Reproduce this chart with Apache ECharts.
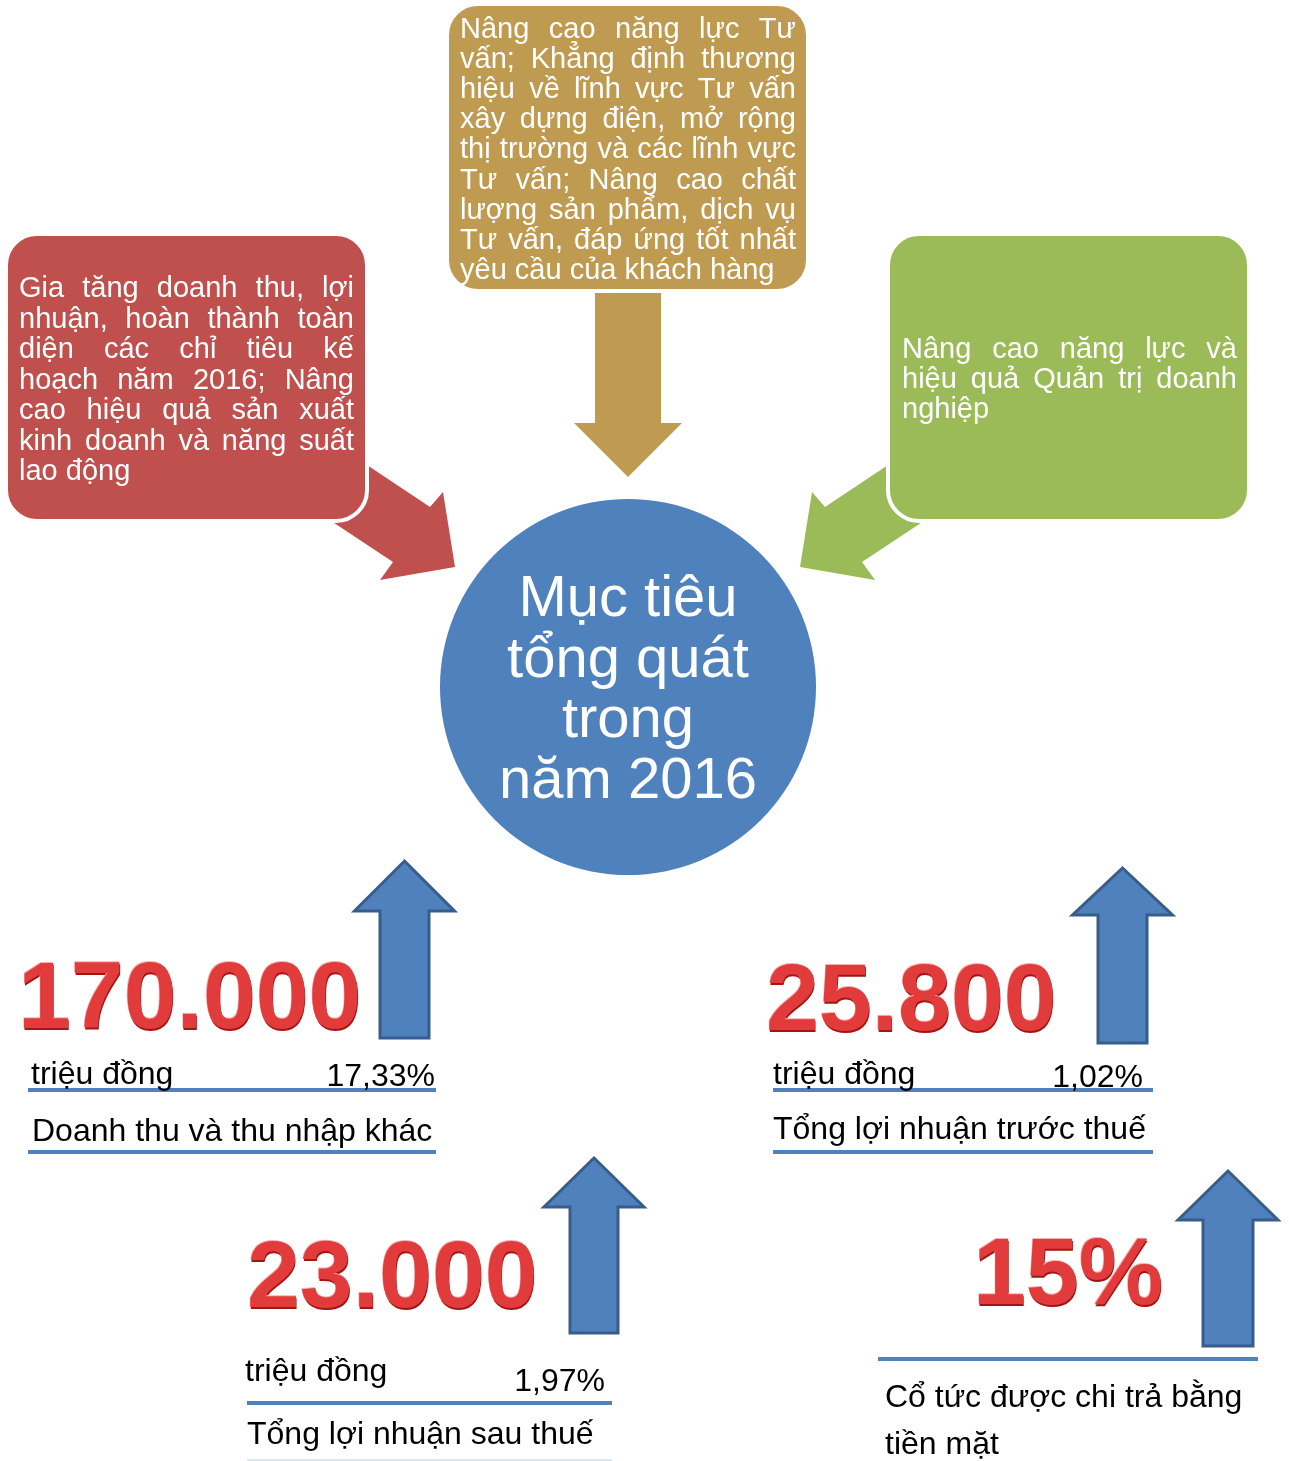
<!DOCTYPE html>
<html>
<head>
<meta charset="utf-8">
<title>Mục tiêu tổng quát trong năm 2016</title>
<script src="https://cdn.jsdelivr.net/npm/echarts@6/dist/echarts.min.js"></script>
<style>
  html, body { margin: 0; padding: 0; background: #ffffff; }
  #chart { width: 1289px; height: 1461px; }
</style>
</head>
<body>
<div id="chart"></div>
<script>
// ---- Content ----
const centerTitle = ['Mục tiêu', 'tổng quát', 'trong', 'năm 2016'];

const goalFinance = [
  'Gia tăng doanh thu, lợi',
  'nhuận, hoàn thành toàn',
  'diện các chỉ tiêu kế',
  'hoạch năm 2016; Nâng',
  'cao hiệu quả sản xuất',
  'kinh doanh và năng suất',
  'lao động'
];
const goalConsulting = [
  'Nâng cao năng lực Tư',
  'vấn; Khẳng định thương',
  'hiệu về lĩnh vực Tư vấn',
  'xây dựng điện, mở rộng',
  'thị trường và các lĩnh vực',
  'Tư vấn; Nâng cao chất',
  'lượng sản phẩm, dịch vụ',
  'Tư vấn, đáp ứng tốt nhất',
  'yêu cầu của khách hàng'
];
const goalManagement = [
  'Nâng cao năng lực và',
  'hiệu quả Quản trị doanh',
  'nghiệp'
];

// Key targets for 2016
const kpiValues = [170000, 25800, 23000, 15];
const kpiUnits = ['triệu đồng', 'triệu đồng', 'triệu đồng', '%'];
const kpiGrowth = [17.33, 1.02, 1.97, null];
const kpiNames = [
  ['Doanh thu và thu nhập khác'],
  ['Tổng lợi nhuận trước thuế'],
  ['Tổng lợi nhuận sau thuế'],
  ['Cổ tức được chi trả bằng', 'tiền mặt']
];

// ---- Helpers ----
const FONT = '"Liberation Sans", Arial, Helvetica, sans-serif';
const BLUE = '#4F81BD';
const BLUE_DARK = '#385D8A';
const measureCtx = document.createElement('canvas').getContext('2d');
function measure(t, size, weight) {
  measureCtx.font = (weight || 'normal') + ' ' + size + 'px ' + FONT;
  return measureCtx.measureText(t).width;
}
function fmtThousands(v) {
  return String(v).replace(/\B(?=(\d{3})+(?!\d))/g, '.');
}
function fmtPct(v) {
  return v.toFixed(2).replace('.', ',') + '%';
}
function text(x, y, str, o) {
  o = o || {};
  return {
    type: 'text', x: x, y: y, z: o.z || 10, silent: true,
    style: {
      text: str,
      fill: o.fill || '#000',
      fontSize: o.size || 32,
      fontWeight: o.weight || 'normal',
      fontFamily: FONT,
      align: o.align || 'left', textAlign: o.align || 'left',
      verticalAlign: 'middle', textVerticalAlign: 'middle',
      stroke: o.stroke, lineWidth: o.lineWidth || 0,
      shadowColor: o.shadowColor, shadowBlur: o.shadowBlur || 0,
      shadowOffsetX: o.shadowOffsetX || 0, shadowOffsetY: o.shadowOffsetY || 0
    }
  };
}
// justified paragraph: every line but the last spreads to the full width
function justified(lines, left, right, firstY, gap, size) {
  const out = [];
  const width = right - left;
  lines.forEach(function (line, i) {
    const y = firstY + i * gap;
    const words = line.split(' ');
    if (i === lines.length - 1 || words.length < 2) {
      out.push(text(left, y, line, { fill: '#fff', size: size, z: 20 }));
      return;
    }
    const ws = words.map(function (w) { return measure(w, size); });
    const total = ws.reduce(function (a, b) { return a + b; }, 0);
    const g = (width - total) / (words.length - 1);
    let x = left;
    words.forEach(function (w, k) {
      out.push(text(x, y, w, { fill: '#fff', size: size, z: 20 }));
      x += ws[k] + g;
    });
  });
  return out;
}
// rounded box; the white rim separates it from its pointer arrow
function roundBox(x, y, w, h, color) {
  return {
    type: 'rect', z: 15, silent: true,
    shape: { x: x - 2, y: y - 2, width: w + 4, height: h + 4, r: 31 },
    style: { fill: color, stroke: '#ffffff', lineWidth: 4 }
  };
}
function poly(points, fill, stroke, lw, z) {
  return {
    type: 'polygon', z: z || 5, silent: true,
    shape: { points: points },
    style: { fill: fill, stroke: stroke || null, lineWidth: lw || 0, lineJoin: 'miter' }
  };
}
function upArrow(a) {
  const cx = a.cx, hh = 50, sh = a.shaft;
  return poly([
    [cx, a.tip], [cx + hh, a.head], [cx + sh, a.head], [cx + sh, a.bottom],
    [cx - sh, a.bottom], [cx - sh, a.head], [cx - hh, a.head]
  ], BLUE, BLUE_DARK, 3, 6);
}
function hline(x1, x2, y, color, lw) {
  return {
    type: 'line', z: 8, silent: true,
    shape: { x1: x1, y1: y, x2: x2, y2: y },
    style: { stroke: color || BLUE, lineWidth: lw || 4 }
  };
}
// bevelled red figure: dark lower edge with soft shadow, pale upper edge, red face
function bigNumber(x, y, str) {
  const base = { size: 95, weight: 'bold' };
  return [
    text(x + 0.6, y + 2, str, Object.assign({}, base, {
      fill: '#A31414', shadowColor: 'rgba(0,0,0,0.45)', shadowBlur: 6, shadowOffsetY: 3, z: 11
    })),
    text(x - 0.6, y - 1.4, str, Object.assign({}, base, { fill: '#FAB0B0', z: 12 })),
    text(x, y, str, Object.assign({}, base, { fill: '#E23B3B', z: 13 }))
  ];
}

// ---- Layout ----
const els = [];

// goal boxes with their pointers towards the centre
els.push(roundBox(8, 236, 357, 283, '#C0504D'));
els.push(poly([[340, 447], [430, 507], [443, 492], [455, 567], [380, 580], [393, 562], [310, 507]], '#C0504D', null, 0, 5));
els.push.apply(els, justified(goalFinance, 19, 354, 289, 30.5, 29));

els.push(roundBox(449, 6, 357, 283, '#BF9B52'));
els.push(poly([[595, 293], [661, 293], [661, 423], [682, 423], [628, 477], [574, 423], [595, 423]], '#BF9B52', null, 0, 5));
els.push.apply(els, justified(goalConsulting, 460, 796, 29.5, 30.2, 29));

els.push(roundBox(890, 236, 357, 283, '#9BBB59'));
els.push(poly([[915, 447], [825, 507], [812, 492], [800, 567], [875, 580], [862, 562], [945, 507]], '#9BBB59', null, 0, 5));
els.push.apply(els, justified(goalManagement, 902, 1237, 350, 30, 29));

// centre circle
els.push({ type: 'circle', z: 4, silent: true, shape: { cx: 628, cy: 687, r: 188 }, style: { fill: BLUE } });
centerTitle.forEach(function (t, i) {
  els.push(text(628, 600 + i * 60.5, t, { fill: '#fff', size: 58, align: 'center', z: 10 }));
});

// KPI blocks
const kpiLayout = [
  { num: [18, 1002], arrow: { cx: 404.5, tip: 861, head: 911, shaft: 24.5, bottom: 1038 },
    unit: [31, 1075], growth: [435, 1077], line1: [28, 436, 1090], names: [[32, 1132]], line2: 1152 },
  { num: [766, 1004], arrow: { cx: 1122.5, tip: 868, head: 915, shaft: 24.5, bottom: 1043 },
    unit: [773, 1075], growth: [1143, 1078], line1: [773, 1153, 1090], names: [[773, 1130]], line2: 1152 },
  { num: [247, 1281], arrow: { cx: 594, tip: 1158, head: 1207, shaft: 24, bottom: 1333 },
    unit: [245, 1372], growth: [605, 1382], line1: [247, 612, 1403], names: [[247, 1435]], line2: 1460, faint: true },
  { num: [973, 1278], arrow: { cx: 1228, tip: 1171, head: 1220, shaft: 25, bottom: 1346 },
    unit: null, growth: null, line1: [878, 1258, 1359], names: [[885, 1398], [885, 1445]], line2: null }
];

kpiValues.forEach(function (v, i) {
  const L = kpiLayout[i];
  const isPct = kpiUnits[i] === '%';
  const label = isPct ? v + '%' : fmtThousands(v);
  els.push(upArrow(L.arrow));
  els.push.apply(els, bigNumber(L.num[0], L.num[1], label));
  if (!isPct) {
    els.push(text(L.unit[0], L.unit[1], kpiUnits[i], { size: 32 }));
  }
  if (kpiGrowth[i] != null) {
    els.push(text(L.growth[0], L.growth[1], fmtPct(kpiGrowth[i]), { size: 32, align: 'right' }));
  }
  els.push(hline(L.line1[0], L.line1[1], L.line1[2]));
  kpiNames[i].forEach(function (n, k) {
    els.push(text(L.names[k][0], L.names[k][1], n, { size: 32 }));
  });
  if (L.line2 != null) {
    els.push(L.faint ? hline(L.line1[0], L.line1[1], L.line2, '#DCE6F2', 2)
                     : hline(L.line1[0], L.line1[1], L.line2));
  }
});

const chart = echarts.init(document.getElementById('chart'), null, { renderer: 'canvas' });
chart.setOption({
  backgroundColor: '#ffffff',
  animation: false,
  graphic: { elements: els }
});
</script>
</body>
</html>
